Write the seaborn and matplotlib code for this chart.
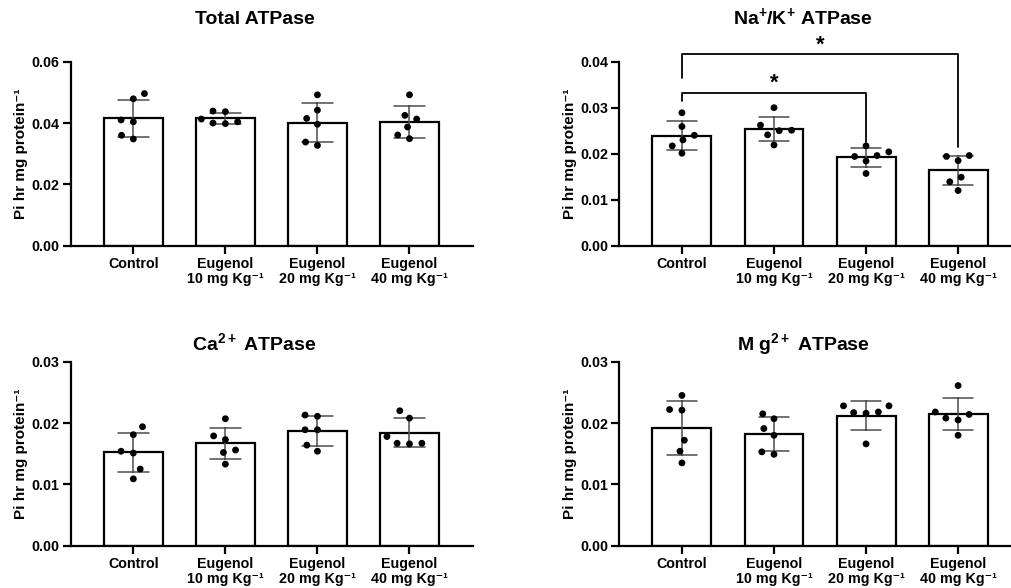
import numpy as np
import pandas as pd
import matplotlib
matplotlib.use("Agg")
import matplotlib.pyplot as plt
import seaborn as sns

groups = ["Control",
          "Eugenol\n10 mg Kg\u207b\u00b9",
          "Eugenol\n20 mg Kg\u207b\u00b9",
          "Eugenol\n40 mg Kg\u207b\u00b9"]

# Total ATPase (6 animals per group)
total_ctrl = [0.0479, 0.0496, 0.0404, 0.0410, 0.0348, 0.0360]
total_10 = [0.0437, 0.0439, 0.0398, 0.0413, 0.0400, 0.0404]
total_20 = [0.0492, 0.0442, 0.0415, 0.0396, 0.0327, 0.0338]
total_40 = [0.0492, 0.0425, 0.0413, 0.0387, 0.0349, 0.0361]

# Na+/K+ ATPase
nak_ctrl = [0.0289, 0.0259, 0.0230, 0.0240, 0.0201, 0.0217]
nak_10 = [0.0300, 0.0262, 0.0251, 0.0250, 0.0241, 0.0219]
nak_20 = [0.0217, 0.0204, 0.0196, 0.0194, 0.0184, 0.0157]
nak_40 = [0.0196, 0.0194, 0.0185, 0.0149, 0.0139, 0.0120]

# Ca2+ ATPase
ca_ctrl = [0.0194, 0.0181, 0.0151, 0.0154, 0.0125, 0.0109]
ca_10 = [0.0207, 0.0179, 0.0173, 0.0156, 0.0152, 0.0133]
ca_20 = [0.0211, 0.0213, 0.0189, 0.0189, 0.0154, 0.0164]
ca_40 = [0.0220, 0.0208, 0.0178, 0.0166, 0.0167, 0.0167]

# Mg2+ ATPase
mg_ctrl = [0.0245, 0.0222, 0.0221, 0.0172, 0.0154, 0.0135]
mg_10 = [0.0215, 0.0207, 0.0191, 0.0180, 0.0153, 0.0149]
mg_20 = [0.0228, 0.0228, 0.0218, 0.0216, 0.0217, 0.0166]
mg_40 = [0.0261, 0.0214, 0.0218, 0.0208, 0.0205, 0.0180]

titles = ["Total ATPase", "Na$^{+}$/K$^{+}$ ATPase", "Ca$^{2+}$ ATPase", "M g$^{2+}$ ATPase"]
ylabel = "Pi hr mg protein\u207b\u00b9"
ymax = [0.06, 0.04, 0.03, 0.03]
ystep = [0.02, 0.01, 0.01, 0.01]

# significance brackets on Na+/K+ panel: (from, to, bar height, left drop, right drop)
brackets = [(0, 2, 0.0333, 0.0315, 0.0226), (0, 3, 0.0417, 0.0364, 0.0215)]

sns.set_style("ticks")
plt.rcParams["font.family"] = ["Liberation Sans", "DejaVu Sans"]
plt.rcParams["font.weight"] = "bold"
plt.rcParams["mathtext.fontset"] = "custom"
plt.rcParams["mathtext.rm"] = "Liberation Sans:bold"
plt.rcParams["mathtext.it"] = "Liberation Sans:bold"
plt.rcParams["mathtext.bf"] = "Liberation Sans:bold"
for k in ["text.color", "axes.labelcolor", "axes.edgecolor", "xtick.color", "ytick.color"]:
    plt.rcParams[k] = "black"


def make_df(series):
    return pd.DataFrame({
        "group": np.repeat(groups, 6),
        "value": np.concatenate(series),
    })


panels = [
    make_df([total_ctrl, total_10, total_20, total_40]),
    make_df([nak_ctrl, nak_10, nak_20, nak_40]),
    make_df([ca_ctrl, ca_10, ca_20, ca_40]),
    make_df([mg_ctrl, mg_10, mg_20, mg_40]),
]

fig = plt.figure(figsize=(10.12, 5.88), dpi=100)
boxes = [[0.0699, 0.5821, 0.3975, 0.313],
         [0.6120, 0.5821, 0.3975, 0.313],
         [0.0699, 0.0719, 0.3975, 0.313],
         [0.6120, 0.0719, 0.3975, 0.313]]

for i, df in enumerate(panels):
    ax = fig.add_axes(boxes[i])
    sns.barplot(data=df, x="group", y="value", order=groups, errorbar="sd",
                width=0.64, color="white", saturation=1, edgecolor="black",
                linewidth=1.6, capsize=0.33,
                err_kws={"color": "0.3", "linewidth": 1.1}, ax=ax)
    # thick invisible edge widens the swarm spacing like GraphPad's scatter
    sns.swarmplot(data=df, x="group", y="value", order=groups, color="black",
                  size=4.9, linewidth=3.6, zorder=4, ax=ax)
    for c in ax.collections:
        c.set_edgecolor("none")

    ax.set_xlim(-0.68, 3.69)
    ax.set_ylim(0, ymax[i])
    ax.set_yticks(np.arange(0, ymax[i] + 1e-9, ystep[i]))
    ax.yaxis.set_major_formatter(matplotlib.ticker.FormatStrFormatter("%.2f"))
    ax.set_xlabel("")
    ax.set_ylabel(ylabel, fontsize=11, fontweight="bold")
    ax.yaxis.set_label_coords(-0.106, 0.5)
    for s in ["top", "right"]:
        ax.spines[s].set_visible(False)
    for s in ["left", "bottom"]:
        ax.spines[s].set_linewidth(1.6)
    ax.tick_params(axis="both", width=1.6, length=6, labelsize=10.3, pad=2)
    for lab in ax.get_xticklabels() + ax.get_yticklabels():
        lab.set_fontweight("bold")
    for lab in ax.get_xticklabels():
        lab.set_linespacing(1.15)

    ty = 1.205 if i < 2 else 1.064
    ax.text(0.457, ty, titles[i], transform=ax.transAxes, ha="center",
            va="baseline", fontsize=14, fontweight="bold")

    if i == 1:
        for a, b, h, dl, dr in brackets:
            ax.plot([a, a, b, b], [dl, h, h, dr], color="black", lw=1.3,
                    clip_on=False, zorder=5)
            ax.text((a + b) / 2, h - 0.0003, "*", ha="center", va="bottom",
                    fontsize=16, fontweight="bold", clip_on=False)

fig.savefig("out.png", dpi=100)
